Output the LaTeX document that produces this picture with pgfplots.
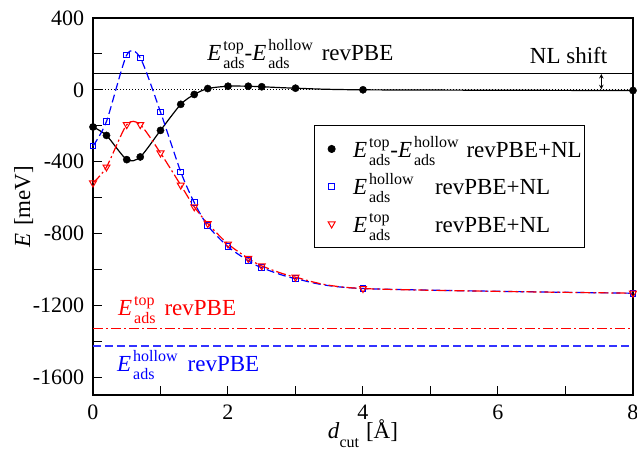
\documentclass[border=0pt]{standalone}
\usepackage{fontspec}
\setmainfont{Liberation Serif}
\usepackage{pgfplots}
\pgfplotsset{compat=1.18}
\newcommand\Eads[1]{\textit{E}\kern2pt{\fontsize{16}{16}\selectfont\rlap{\raisebox{10pt}{#1}}\rlap{\raisebox{-8pt}{ads}}\ooalign{\hphantom{#1}\cr\hphantom{ads}\cr}}}
\definecolor{myblue}{rgb}{0,0,1}
\definecolor{lineblue}{rgb}{0.2,0.2,1}
\begin{document}
\fontsize{23}{27}\selectfont
\begin{tikzpicture}
\path[use as bounding box] (-93pt,-54pt) rectangle (544pt,395pt);
\begin{axis}[
  scale only axis, width=540pt, height=377pt,
  xmin=0, xmax=8, ymin=-1700, ymax=400,
  xtick={0,2,4,6,8}, minor x tick num=1,
  ytick={-1600,-1200,-800,-400,0,400}, minor y tick num=1,
  xtick pos=left, ytick pos=left, tick align=inside,
  major tick length=9pt, minor tick length=9pt,
  tick style={line width=1pt, black},
  axis line style={line width=1.3pt},
  /pgf/number format/assume math mode=true,
  /pgf/number format/.cd, 1000 sep={}, /pgfplots/.cd,
  every tick label/.append style={font=\fontsize{22}{26}\selectfont},
  xticklabel style={yshift=-2pt},
  yticklabel style={xshift=-1pt},
  xlabel={\textit{d}\raisebox{-9pt}{\fontsize{16}{16}\selectfont cut}\hspace{7pt}[Å]},
  ylabel={\textit{E}\hspace{7pt}[meV]},
  label style={font=\fontsize{23}{27}\selectfont},
  xlabel style={yshift=16pt},
  ylabel style={yshift=-16pt},
  legend style={at={(0.409,0.716)}, anchor=north west, draw=black, line width=0.8pt,
     font=\fontsize{23}{27}\selectfont, inner xsep=3pt, inner ysep=3pt, row sep=-3.5pt,
     nodes={inner xsep=0pt, inner ysep=0pt, text height=29pt, text depth=12pt}},
  legend cell align=left,
  legend image code/.code={\path (-14pt,0pt) (21pt,0pt); \draw[#1] plot coordinates {(0pt,0pt)};},
]
% horizontal reference lines
\addplot[black, line width=1.2pt, forget plot] coordinates {(0,91) (8,91)};
\addplot[black, dotted, line width=1pt, forget plot] coordinates {(0,0) (8,0)};
\addplot[red, draw=red, line width=1.2pt, dash pattern=on 10pt off 3pt on 2pt off 3pt, forget plot] coordinates {(0,-1331) (8,-1331)};
\addplot[lineblue, draw=lineblue, line width=1.4pt, dash pattern=on 8pt off 4pt, forget plot] coordinates {(0,-1426) (8,-1426)};
% curves
\addplot[black, line width=1.2pt, smooth, tension=0.45, forget plot] coordinates {
(0,-207) (0.2,-254) (0.5,-389) (0.7,-374) (1.0,-226) (1.3,-81) (1.5,-26) (1.7,7) (2.0,20) (2.3,20) (2.5,17) (3.0,9) (4.0,0) (8.0,-4)};
\addplot[color=myblue, line width=1.2pt, smooth, tension=0.45, dash pattern=on 8pt off 4pt, forget plot] coordinates {
(0,-313) (0.2,-176) (0.5,194) (0.7,178) (1.0,-124) (1.3,-457) (1.5,-628) (1.7,-757) (2.0,-874) (2.3,-952) (2.5,-991) (3.0,-1052) (4.0,-1107) (8.0,-1133)};
\addplot[red, line width=1.2pt, smooth, tension=0.45, dash pattern=on 10pt off 3pt on 2pt off 3pt, forget plot] coordinates {
(0,-519) (0.2,-430) (0.5,-194) (0.7,-194) (1.0,-352) (1.3,-531) (1.5,-652) (1.7,-745) (2.0,-859) (2.3,-939) (2.5,-981) (3.0,-1044) (4.0,-1107) (8.0,-1133)};
% markers
\addplot[only marks, mark=*, mark size=3.6pt, black] coordinates {
(0,-207) (0.2,-254) (0.5,-389) (0.7,-374) (1.0,-226) (1.3,-81) (1.5,-26) (1.7,7) (2.0,20) (2.3,20) (2.5,17) (3.0,9) (4.0,0) (8.0,-4)};
\addlegendentry{\Eads{top}-\Eads{hollow}\hspace{8pt}revPBE+NL}
\addplot[only marks, mark=square, mark size=2.8pt, color=myblue, mark options={line width=1pt}] coordinates {
(0,-313) (0.2,-176) (0.5,194) (0.7,178) (1.0,-124) (1.3,-457) (1.5,-628) (1.7,-757) (2.0,-874) (2.3,-952) (2.5,-991) (3.0,-1052) (4.0,-1107) (8.0,-1133)};
\addlegendentry{\makebox[82pt][l]{\Eads{hollow}}revPBE+NL}
\addplot[only marks, mark=triangle, mark size=4pt, red, mark options={rotate=180, line width=1pt}] coordinates {
(0,-519) (0.2,-430) (0.5,-194) (0.7,-194) (1.0,-352) (1.3,-531) (1.5,-652) (1.7,-745) (2.0,-859) (2.3,-939) (2.5,-981) (3.0,-1044) (4.0,-1107) (8.0,-1133)};
\addlegendentry{\makebox[82pt][l]{\Eads{top}}revPBE+NL}
% annotations
\node[anchor=base west, inner sep=0pt] at (axis cs:1.69,161) {\Eads{top}-\Eads{hollow}\hspace{9pt}revPBE};
\node[anchor=base west, inner sep=0pt] at (axis cs:6.47,144) {NL shift};
\draw[<->, >=stealth, line width=1pt] (axis cs:7.53,88) -- (axis cs:7.53,3);
\node[anchor=base west, inner sep=0pt, red] at (axis cs:0.37,-1256) {\Eads{top}\hspace{9pt}revPBE};
\node[anchor=base west, inner sep=0pt, color=myblue] at (axis cs:0.355,-1570) {\Eads{hollow}\hspace{10pt}revPBE};
\end{axis}
\end{tikzpicture}
\end{document}
